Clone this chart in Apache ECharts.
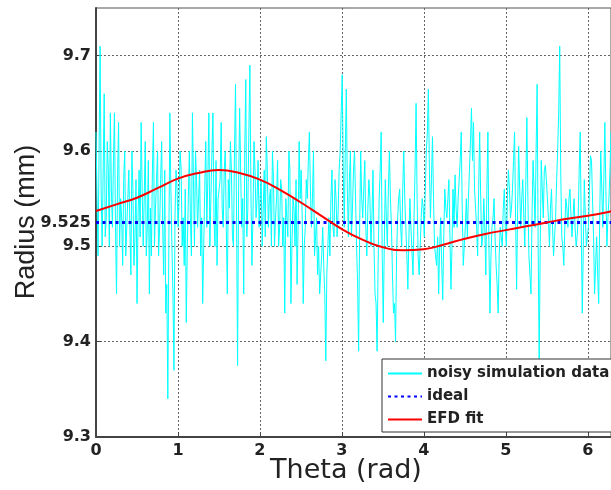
<!DOCTYPE html>
<html><head><meta charset="utf-8">
<script src="https://cdn.jsdelivr.net/npm/echarts@6/dist/echarts.min.js"></script>
<style>html,body{margin:0;padding:0;background:#fff}#c{width:611px;height:490px}</style>
</head><body><div id="c"></div>
<script>
// noisy simulation data: main samples, uniformly spaced over [0, 2*pi]
const noisyValues = [
  9.62, 9.49, 9.71, 9.50, 9.66, 9.53, 9.58, 9.64, 9.52, 9.64, 9.45, 9.63, 9.55, 9.48, 9.60, 9.52, 9.58, 9.47, 9.56, 9.51,
  9.44, 9.58, 9.63, 9.50, 9.61, 9.52, 9.45, 9.49, 9.63, 9.54, 9.60, 9.52, 9.61, 9.47, 9.43, 9.34, 9.64, 9.50, 9.37, 9.58,
  9.52, 9.60, 9.50, 9.48, 9.42, 9.55, 9.53, 9.64, 9.50, 9.57, 9.55, 9.49, 9.44, 9.56, 9.52, 9.64, 9.55, 9.64, 9.50, 9.48,
  9.55, 9.63, 9.52, 9.60, 9.45, 9.54, 9.58, 9.50, 9.67, 9.375, 9.645, 9.52, 9.45, 9.675, 9.54, 9.69, 9.48, 9.61, 9.53, 9.59,
  9.55, 9.50, 9.58, 9.615, 9.52, 9.56, 9.60, 9.50, 9.55, 9.50, 9.57, 9.50, 9.43, 9.53, 9.60, 9.44, 9.55, 9.50, 9.46, 9.61,
  9.58, 9.44, 9.52, 9.55, 9.62, 9.52, 9.60, 9.51, 9.47, 9.45,
  9.49, 9.48, 9.38, 9.50, 9.49, 9.58, 9.51, 9.55, 9.535, 9.60, 9.68, 9.52, 9.665, 9.51, 9.60, 9.54, 9.60, 9.50, 9.39, 9.60,
  9.53, 9.59, 9.49, 9.57, 9.50, 9.58, 9.45, 9.39, 9.55, 9.62, 9.42, 9.57, 9.50, 9.60, 9.52, 9.43, 9.40, 9.53, 9.56,
  9.50, 9.60, 9.52, 9.455, 9.55, 9.495, 9.53, 9.65, 9.49, 9.50, 9.55, 9.51, 9.60, 9.665, 9.53, 9.615, 9.50, 9.48, 9.45, 9.53,
  9.444, 9.56, 9.53, 9.57, 9.455, 9.56, 9.575, 9.52, 9.57, 9.62, 9.48, 9.52, 9.51, 9.58, 9.645, 9.63, 9.54, 9.49, 9.62, 9.50,
  9.55, 9.47, 9.62, 9.43, 9.52, 9.55, 9.48, 9.43, 9.52, 9.50, 9.56,
  9.50, 9.58, 9.53, 9.56, 9.62, 9.455, 9.605, 9.52, 9.57, 9.50, 9.635, 9.49, 9.45, 9.59, 9.52, 9.67, 9.38, 9.59, 9.53, 9.585,
  9.55, 9.50, 9.56, 9.49, 9.53, 9.60, 9.71, 9.51, 9.48, 9.55, 9.52, 9.56, 9.51, 9.55, 9.50, 9.53, 9.62, 9.43, 9.57, 9.50,
  9.52, 9.595, 9.59, 9.45, 9.51, 9.44, 9.60, 9.52, 9.63, 9.50, 9.55, 9.62
];
// noisy simulation data: in-between samples (one between each pair of main samples)
const noisyMidValues = [
  9.55, 9.60, 9.56, 9.58, 9.51, 9.61, 9.50, 9.56, 9.59, 9.52,
  9.57, 9.50, 9.53, 9.57, 9.49, 9.55, 9.52, 9.60, 9.48, 9.57,
  9.53, 9.51, 9.56, 9.55, 9.49, 9.59, 9.54, 9.58, 9.50, 9.57,
  9.49, 9.57, 9.52, 9.58, 9.46, 9.50, 9.56, 9.45, 9.53, 9.56,
  9.55, 9.58, 9.53, 9.56, 9.50, 9.60, 9.49, 9.57, 9.60, 9.52,
  9.58, 9.53, 9.50, 9.61, 9.57, 9.50, 9.60, 9.53, 9.59, 9.55,
  9.57, 9.54, 9.58, 9.52, 9.57, 9.61, 9.51, 9.60, 9.53, 9.56,
  9.58, 9.55, 9.60, 9.51, 9.62, 9.56, 9.53, 9.58, 9.55, 9.52,
  9.57, 9.54, 9.51, 9.58, 9.55, 9.50, 9.57, 9.53, 9.59, 9.52,
  9.56, 9.53, 9.55, 9.51, 9.58, 9.50, 9.54, 9.57, 9.52, 9.55,
  9.53, 9.50, 9.57, 9.59, 9.56, 9.55, 9.49, 9.53, 9.50, 9.47,
  9.52, 9.45, 9.47, 9.53, 9.55, 9.52, 9.57, 9.51, 9.58, 9.60,
  9.58, 9.60, 9.56, 9.57, 9.51, 9.58, 9.55, 9.46, 9.52, 9.55,
  9.56, 9.52, 9.54, 9.55, 9.53, 9.50, 9.44, 9.48, 9.58, 9.49,
  9.50, 9.53, 9.56, 9.55, 9.47, 9.44, 9.49, 9.55, 9.52, 9.56,
  9.55, 9.49, 9.51, 9.52, 9.47, 9.58, 9.55, 9.47, 9.53, 9.54,
  9.56, 9.62, 9.58, 9.57, 9.55, 9.49, 9.51, 9.50, 9.48, 9.51,
  9.54, 9.55, 9.51, 9.50, 9.52, 9.54, 9.55, 9.59, 9.54, 9.50,
  9.55, 9.55, 9.61, 9.59, 9.56, 9.52, 9.56, 9.55, 9.51, 9.52,
  9.56, 9.50, 9.49, 9.53, 9.51, 9.46, 9.49, 9.51, 9.54, 9.52,
  9.55, 9.56, 9.54, 9.59, 9.53, 9.54, 9.56, 9.55, 9.53, 9.57,
  9.55, 9.47, 9.53, 9.56, 9.60, 9.50, 9.50, 9.56, 9.58, 9.57,
  9.53, 9.54, 9.52, 9.51, 9.57, 9.64, 9.58, 9.50, 9.52, 9.54,
  9.55, 9.53, 9.53, 9.52, 9.51, 9.58, 9.52, 9.50, 9.53, 9.51,
  9.56, 9.59, 9.51, 9.48, 9.47, 9.53, 9.56, 9.57, 9.56, 9.53, 9.58
];
// EFD fit curve
const fitTheta = [0, 0.25, 0.5, 0.75, 1.0, 1.25, 1.5, 1.75, 2.0, 2.25, 2.5, 2.75, 3.0, 3.25, 3.5, 3.75,
  4.0, 4.25, 4.5, 4.75, 5.0, 5.25, 5.5, 5.75, 6.0, 6.25, 6.2832];
const fitValues = [9.537, 9.544, 9.551, 9.561, 9.571, 9.577, 9.580, 9.577, 9.570, 9.559, 9.546, 9.532, 9.518, 9.507, 9.499, 9.496,
  9.497, 9.502, 9.508, 9.513, 9.517, 9.521, 9.525, 9.529, 9.532, 9.536, 9.537];
const idealValue = 9.525;
const xTicks = [0, 1, 2, 3, 4, 5, 6];
const yTicks = [9.3, 9.4, 9.5, 9.6, 9.7];
const yLabels = [9.3, 9.4, 9.5, 9.525, 9.6, 9.7];
const thetaMax = 2 * Math.PI;
const yMin = 9.3, yMax = 9.75;

const step = thetaMax / (noisyValues.length - 1);
const noisyData = [];
noisyValues.forEach((v, i) => {
  noisyData.push([i * step, v]);
  if (i < noisyMidValues.length) noisyData.push([(i + 0.5) * step, noisyMidValues[i]]);
});
const fitData = fitTheta.map((t, i) => [t, fitValues[i]]);
const idealData = [[0, idealValue], [thetaMax, idealValue]];

const chart = echarts.init(document.getElementById('c'));
const gridLine = { show: true, lineStyle: { color: '#666', width: 1, type: [2, 2] } };
chart.setOption({
  animation: false,
  backgroundColor: '#fff',
  grid: { left: 96, top: 8, right: -8, bottom: 53, show: true, borderColor: '#555', borderWidth: 1, backgroundColor: 'transparent' },
  xAxis: {
    type: 'value', min: 0, max: thetaMax,
    axisLine: { show: true, lineStyle: { color: '#444', width: 2 } },
    axisTick: { show: true, inside: true, length: 5, customValues: xTicks, lineStyle: { color: '#444' } },
    axisLabel: { customValues: xTicks, color: '#222', fontFamily: 'DejaVu Sans', fontWeight: 'bold', fontSize: 16, margin: 6 },
    splitLine: gridLine
  },
  yAxis: {
    type: 'value', min: yMin, max: yMax,
    axisLine: { show: true, lineStyle: { color: '#444', width: 2 } },
    axisTick: { show: true, inside: true, length: 5, customValues: yTicks, lineStyle: { color: '#444' } },
    axisLabel: { customValues: yLabels, color: '#222', fontFamily: 'DejaVu Sans', fontWeight: 'bold', fontSize: 16, margin: 5,
      formatter: v => String(v) },
    splitLine: gridLine
  },
  legend: {
    orient: 'vertical', left: 382, top: 359,
    backgroundColor: '#fff', borderColor: '#333', borderWidth: 1,
    padding: [7, 30, 5, 5], itemWidth: 34, itemHeight: 14, itemGap: 8,
    itemStyle: { opacity: 0 },
    textStyle: { color: '#222', fontFamily: 'DejaVu Sans', fontWeight: 'bold', fontSize: 15, lineHeight: 14 },
    data: [
      { name: 'noisy simulation data', lineStyle: { width: 2 } },
      { name: 'ideal' },
      { name: 'EFD fit' }
    ]
  },
  graphic: [
    { type: 'text', x: 27, y: 222, rotation: Math.PI / 2,
      style: { text: 'Radius (mm)', font: '27px "Liberation Sans"', fill: '#222', align: 'center', verticalAlign: 'middle' } },
    { type: 'text', x: 346, y: 471,
      style: { text: 'Theta (rad)', font: '27px "DejaVu Sans"', fill: '#222', align: 'center', verticalAlign: 'middle' } }
  ],
  series: [
    { name: 'noisy simulation data', type: 'line', data: noisyData, symbol: 'none', color: '#00FFFF',
      lineStyle: { color: '#00FFFF', width: 1 }, z: 2 },
    { name: 'ideal', type: 'line', data: idealData, symbol: 'none', color: '#0000FF',
      lineStyle: { color: '#0000FF', width: 3, type: [3, 3.5] }, z: 3 },
    { name: 'EFD fit', type: 'line', data: fitData, symbol: 'none', smooth: true, color: '#FF0000',
      lineStyle: { color: '#FF0000', width: 2 }, z: 4 }
  ]
});
</script></body></html>
